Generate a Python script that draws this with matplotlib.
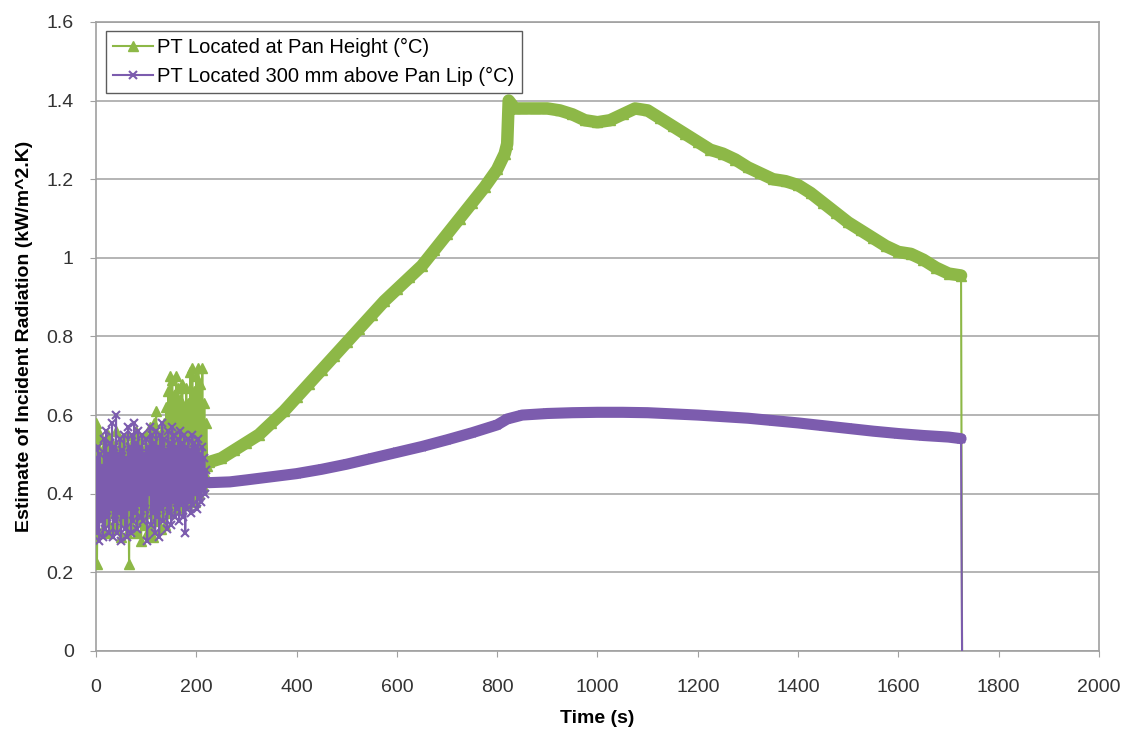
import numpy as np
import matplotlib
matplotlib.use("Agg")
import matplotlib.pyplot as plt

plt.rcParams['font.family'] = ['Liberation Sans', 'DejaVu Sans']

# noisy start (0-222 s, every 2 s)
noise_time = list(range(0, 224, 2))
green_noise = [0.58, 0.22, 0.56, 0.30, 0.54, 0.34, 0.50, 0.31, 0.52, 0.36, 0.48, 0.33,
               0.55, 0.30, 0.50, 0.35, 0.53, 0.32, 0.49, 0.37, 0.56, 0.31, 0.51, 0.34,
               0.50, 0.29, 0.54, 0.33, 0.48, 0.36, 0.52, 0.30, 0.55, 0.22, 0.50, 0.34,
               0.53, 0.31, 0.49, 0.35, 0.56, 0.30, 0.52, 0.33, 0.50, 0.28, 0.54, 0.36,
               0.51, 0.32, 0.55, 0.30, 0.52, 0.35, 0.57, 0.31, 0.53, 0.29, 0.58, 0.34,
               0.61, 0.33, 0.55, 0.37, 0.52, 0.31, 0.56, 0.35, 0.58, 0.32, 0.62, 0.36,
               0.66, 0.38, 0.70, 0.35, 0.69, 0.40, 0.65, 0.37, 0.70, 0.39, 0.67, 0.36,
               0.64, 0.41, 0.68, 0.38, 0.62, 0.40, 0.67, 0.37, 0.63, 0.42, 0.71, 0.39,
               0.72, 0.41, 0.66, 0.38, 0.70, 0.43, 0.72, 0.40, 0.68, 0.44, 0.72, 0.42,
               0.63, 0.45, 0.58, 0.47]
purple_noise = [0.49, 0.30, 0.52, 0.28, 0.50, 0.33, 0.47, 0.29, 0.54, 0.31, 0.56, 0.34,
                0.50, 0.30, 0.53, 0.36, 0.58, 0.29, 0.52, 0.33, 0.60, 0.30, 0.50, 0.35,
                0.54, 0.28, 0.51, 0.34, 0.55, 0.31, 0.49, 0.29, 0.57, 0.36, 0.52, 0.30,
                0.55, 0.33, 0.58, 0.35, 0.53, 0.31, 0.56, 0.37, 0.52, 0.34, 0.55, 0.33,
                0.50, 0.36, 0.54, 0.28, 0.52, 0.40, 0.57, 0.32, 0.55, 0.35, 0.53, 0.30,
                0.56, 0.34, 0.52, 0.29, 0.55, 0.36, 0.58, 0.33, 0.54, 0.37, 0.51, 0.31,
                0.56, 0.35, 0.53, 0.32, 0.57, 0.38, 0.55, 0.34, 0.52, 0.36, 0.54, 0.33,
                0.56, 0.37, 0.53, 0.34, 0.55, 0.30, 0.52, 0.36, 0.54, 0.38, 0.51, 0.35,
                0.55, 0.37, 0.53, 0.40, 0.52, 0.36, 0.54, 0.39, 0.50, 0.38, 0.52, 0.41,
                0.49, 0.40, 0.46, 0.43]

# smooth part, pan height
green_time = [225, 250, 275, 300, 325, 350, 375, 400, 425, 450, 475, 500, 525, 550, 575,
              600, 625, 650, 675, 700, 725, 750, 775, 800, 815, 820, 823, 835, 850, 875,
              900, 925, 950, 975, 1000, 1025, 1050, 1075, 1100, 1125, 1150, 1175, 1200,
              1225, 1250, 1275, 1300, 1325, 1350, 1375, 1400, 1425, 1450, 1475, 1500,
              1525, 1550, 1575, 1600, 1625, 1650, 1675, 1700, 1725]
green_vals = [0.48, 0.49, 0.51, 0.53, 0.55, 0.58, 0.61, 0.645, 0.68, 0.715, 0.75, 0.785,
              0.82, 0.855, 0.89, 0.92, 0.95, 0.98, 1.02, 1.06, 1.10, 1.14, 1.18, 1.225,
              1.265, 1.29, 1.40, 1.38, 1.38, 1.38, 1.38, 1.375, 1.365, 1.35, 1.345, 1.35,
              1.365, 1.38, 1.375, 1.355, 1.335, 1.315, 1.295, 1.275, 1.265, 1.25, 1.23,
              1.215, 1.20, 1.195, 1.185, 1.165, 1.14, 1.115, 1.09, 1.07, 1.05, 1.03,
              1.015, 1.01, 0.995, 0.975, 0.96, 0.955]

# smooth part, 300 mm above pan lip
purple_time = [225, 267, 300, 350, 400, 450, 500, 550, 600, 650, 700, 750, 800, 820, 850,
               900, 950, 1000, 1050, 1100, 1150, 1200, 1250, 1300, 1350, 1400, 1450, 1500,
               1550, 1600, 1650, 1700, 1725]
purple_vals = [0.428, 0.43, 0.435, 0.443, 0.451, 0.462, 0.475, 0.49, 0.505, 0.52, 0.537,
               0.555, 0.575, 0.59, 0.60, 0.604, 0.606, 0.607, 0.607, 0.606, 0.603, 0.60,
               0.596, 0.592, 0.586, 0.58, 0.573, 0.566, 0.559, 0.553, 0.548, 0.544, 0.54]

end_time = 1727
end_val = 0.0

GREEN = "#8DB847"
PURPLE = "#7C5CAE"

fig = plt.figure(figsize=(11.29, 7.33), dpi=100)
ax = fig.add_axes([0.085, 0.112, 0.8884, 0.858])

g_t = noise_time + green_time + [end_time]
g_v = green_noise + green_vals + [end_val]
p_t = noise_time + purple_time + [end_time]
p_v = purple_noise + purple_vals + [end_val]

# thin lines (whole series incl. drop to zero)
ax.plot(g_t, g_v, color=GREEN, lw=1.5, marker="^", ms=7, markevery=list(range(len(g_t) - 1)),
        label="PT Located at Pan Height (°C)", zorder=3)
# thick band where markers overlap densely
ax.plot(green_time, green_vals, color=GREEN, lw=9, solid_capstyle="round", zorder=3)

ax.plot(p_t, p_v, color=PURPLE, lw=1.5, marker="x", ms=6, mew=1.5,
        markevery=list(range(len(p_t) - 1)),
        label="PT Located 300 mm above Pan Lip (°C)", zorder=4)
ax.plot(purple_time, purple_vals, color=PURPLE, lw=8, solid_capstyle="round", zorder=4)

ax.set_xlim(0, 2000)
ax.set_ylim(0, 1.6)
ax.set_xticks(range(0, 2001, 200))
ax.set_yticks([0, 0.2, 0.4, 0.6, 0.8, 1.0, 1.2, 1.4, 1.6])
ax.set_yticklabels(["0", "0.2", "0.4", "0.6", "0.8", "1", "1.2", "1.4", "1.6"])
ax.grid(axis="y", color="#A8A8A8", lw=1.2)
ax.set_axisbelow(True)
for s in ax.spines.values():
    s.set_color("#A0A0A0")
    s.set_linewidth(1.2)
ax.tick_params(colors="#A0A0A0", labelcolor="#333333", labelsize=14, length=4)
ax.tick_params(axis="x", pad=16)
ax.tick_params(axis="y", pad=12)

ax.set_xlabel("Time (s)", fontsize=14, fontweight="bold", labelpad=10)
ax.set_ylabel("Estimate of Incident Radiation (kW/m^2.K)", fontsize=14, fontweight="bold",
              labelpad=10)

leg = ax.legend(loc="upper left", bbox_to_anchor=(0.006, 0.992), fontsize=14.5, frameon=True,
                fancybox=False, edgecolor="#333333", handlelength=2.0, handletextpad=0.2,
                borderpad=0.35, labelspacing=0.5, borderaxespad=0.2)
leg.get_frame().set_linewidth(1.0)

fig.savefig("out.png", dpi=100, facecolor="white")
